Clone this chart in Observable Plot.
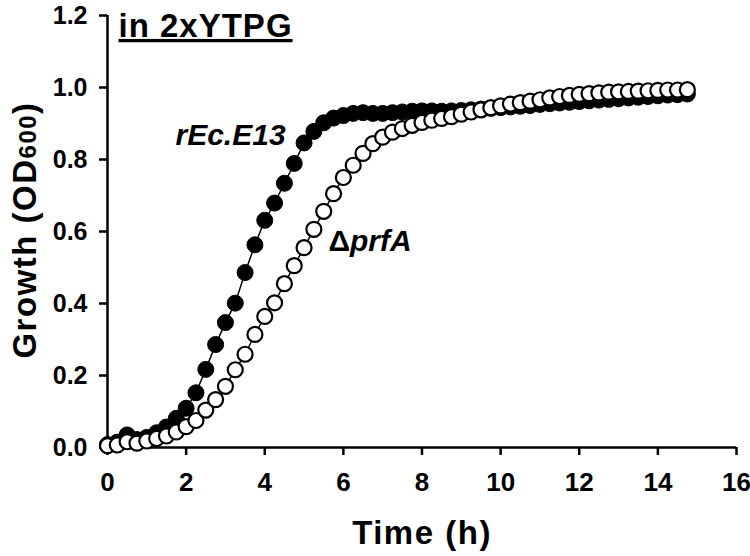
<!DOCTYPE html>
<html><head><meta charset="utf-8">
<script src="https://cdn.jsdelivr.net/npm/d3@7"></script>
<script src="https://cdn.jsdelivr.net/npm/@observablehq/plot@0.6"></script>
<style>body{margin:0;background:#fff} svg{display:block}</style>
</head><body><div id="chart"></div>
<script>
const timeH = [0,0.25,0.5,0.75,1,1.25,1.5,1.75,2,2.25,2.5,2.75,3,3.25,3.5,3.75,4,4.25,4.5,4.75,5,5.25,5.5,5.75,6,6.25,6.5,6.75,7,7.25,7.5,7.75,8,8.25,8.5,8.75,9,9.25,9.5,9.75,10,10.25,10.5,10.75,11,11.25,11.5,11.75,12,12.25,12.5,12.75,13,13.25,13.5,13.75,14,14.25,14.5,14.75];
const rEcE13 = [0.008,0.015,0.035,0.022,0.028,0.041,0.057,0.081,0.109,0.152,0.217,0.286,0.347,0.401,0.486,0.563,0.631,0.679,0.734,0.789,0.846,0.878,0.902,0.915,0.922,0.928,0.930,0.928,0.928,0.930,0.932,0.934,0.935,0.935,0.934,0.935,0.936,0.938,0.940,0.942,0.944,0.946,0.948,0.950,0.953,0.955,0.957,0.959,0.961,0.963,0.965,0.967,0.969,0.971,0.973,0.975,0.977,0.979,0.980,0.982];
const dprfA = [0.005,0.007,0.016,0.012,0.018,0.025,0.032,0.043,0.058,0.075,0.104,0.133,0.170,0.216,0.259,0.314,0.364,0.402,0.455,0.505,0.555,0.606,0.656,0.705,0.750,0.784,0.817,0.844,0.862,0.876,0.886,0.895,0.903,0.909,0.914,0.919,0.926,0.932,0.938,0.944,0.949,0.954,0.958,0.962,0.966,0.971,0.975,0.978,0.981,0.983,0.985,0.987,0.988,0.989,0.990,0.991,0.992,0.993,0.993,0.994];
const xTicks = [0,2,4,6,8,10,12,14,16];
const yTicks = [0,0.2,0.4,0.6,0.8,1.0,1.2];
const seriesLabels = ["rEc.E13", "\u0394prfA"];
const titleText = "in 2xYTPG";
const xTitle = "Time (h)";
const yTitleMain = "Growth (OD";
const yTitleSub = "600";

const filled = timeH.map((t, i) => ({t, v: rEcE13[i]}));
const open = timeH.map((t, i) => ({t, v: dprfA[i]}));
const FONT = "'Liberation Sans', Arial, Helvetica, sans-serif";

const chart = Plot.plot({
  width: 750,
  height: 556,
  marginLeft: 107,
  marginRight: 14,
  marginTop: 15,
  marginBottom: 109,
  style: {fontFamily: FONT, fontWeight: "bold", color: "black", background: "white"},
  x: {domain: [0, 16]},
  y: {domain: [0, 1.2]},
  marks: [
    Plot.ruleY([0], {strokeWidth: 2.5}),
    Plot.ruleX([0], {strokeWidth: 2.5}),
    Plot.axisX({ticks: xTicks, tickSize: 8, tickPadding: 17, strokeWidth: 2.5, fontSize: 26, fontWeight: "bold", label: null}),
    Plot.axisY({ticks: yTicks, tickSize: 8, tickPadding: 12, strokeWidth: 2.5, fontSize: 25, fontWeight: "bold", tickFormat: d => d.toFixed(1), label: null}),
    Plot.line(filled, {x: "t", y: "v", stroke: "black", strokeWidth: 1.5}),
    Plot.dot(filled, {x: "t", y: "v", r: 8, fill: "black", stroke: "black", strokeWidth: 1}),
    Plot.line(open, {x: "t", y: "v", stroke: "black", strokeWidth: 1.5}),
    Plot.dot(open, {x: "t", y: "v", r: 7.5, fill: "white", stroke: "black", strokeWidth: 2.2}),
    Plot.text([seriesLabels[0]], {x: 4.53, y: 0.84, text: d => d, textAnchor: "end", lineAnchor: "bottom", fontSize: 30, fontStyle: "italic", fontWeight: "bold"}),
    Plot.text([seriesLabels[1]], {x: 5.62, y: 0.547, text: d => d, textAnchor: "start", lineAnchor: "bottom", fontSize: 30, fontStyle: "italic", fontWeight: "bold", className: "dlab"}),
    Plot.text([titleText], {frameAnchor: "top-left", dx: 11, dy: -2, text: d => d, textAnchor: "start", lineAnchor: "top", fontSize: 33, fontWeight: "bold", className: "ttl"}),
    Plot.text([xTitle], {frameAnchor: "bottom", dy: 96, text: d => d, textAnchor: "middle", lineAnchor: "bottom", fontSize: 33, fontWeight: "bold", className: "xttl"})
  ]
});

document.getElementById("chart").appendChild(chart);
const svg = d3.select(chart);
svg.selectAll(".ttl text").attr("text-decoration", "underline").attr("letter-spacing", "1px");
svg.selectAll(".xttl text").attr("letter-spacing", "1.5px");
// Greek delta upright, rest italic
svg.selectAll(".dlab text").each(function() {
  const el = d3.select(this);
  const s = el.text();
  el.text(null);
  el.append("tspan").attr("font-style", "normal").text(s.slice(0, 1));
  el.append("tspan").text(s.slice(1));
});
const yl = svg.append("text")
  .attr("transform", "translate(36,230) rotate(-90)")
  .attr("text-anchor", "middle")
  .attr("font-family", FONT)
  .attr("font-weight", "bold")
  .attr("font-size", 33)
  .attr("letter-spacing", "1.5px")
  .attr("fill", "black");
yl.append("tspan").text(yTitleMain);
yl.append("tspan").attr("font-size", 24).text(yTitleSub);
yl.append("tspan").text(")");
</script>
</body></html>
